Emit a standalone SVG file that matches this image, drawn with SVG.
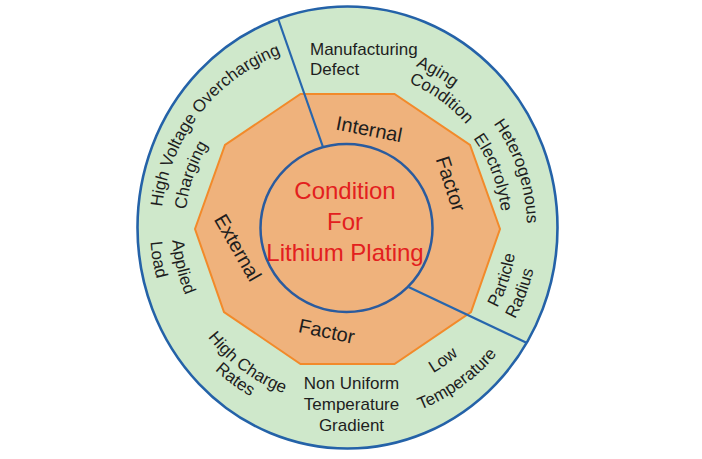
<svg xmlns="http://www.w3.org/2000/svg" xmlns:xlink="http://www.w3.org/1999/xlink" width="702" height="459" viewBox="0 0 702 459">
<style>
  text { font-family: "Liberation Sans", Arial, sans-serif; }
  .lbl { font-size: 17px; fill: #1e1e1e; }
  .fac { font-size: 20px; fill: #1e1e1e; }
  .ctr { font-size: 24px; fill: #e3201e; text-anchor: middle; }
  .div { stroke: #2766ad; stroke-width: 2.2; fill: none; }
</style>
<defs>
  <path id="pHV" d="M162.2,206.94 A186,186 0 0 1 314.7,44.83"/>
  <path id="pCh" d="M186.04,209.66 A162,162 0 0 1 242.87,103.9"/>
  <path id="pAg" d="M415.77,65.99 A176,176 0 0 1 499.42,140"/>
  <path id="pCo" d="M408.74,82.56 A158,158 0 0 1 495.47,173.96"/>
  <path id="pHe" d="M493.54,123.47 A180,180 0 0 1 524.27,259.26"/>
  <path id="pEl" d="M473.19,137.99 A155,155 0 0 1 502,228"/>
  <path id="pPa" d="M497.1,307.81 A170,170 0 0 0 514.42,198.48"/>
  <path id="pRa" d="M514.85,319.14 A191,191 0 0 0 537.27,211.35"/>
  <path id="pLo" d="M393.58,390.45 A169,169 0 0 0 487.11,322.5"/>
  <path id="pTe" d="M401.03,416.41 A196,196 0 0 0 509.49,337.6"/>
  <path id="pHC" d="M184.8,298.86 A177,177 0 0 0 327.27,403.9"/>
  <path id="pRt" d="M169.23,305.67 A194,194 0 0 0 325.37,420.79"/>
  <path id="pAp" d="M172.43,240.21 A175,175 0 0 0 212.94,340.49"/>
  <path id="pLd" d="M150.48,241.74 A197,197 0 0 0 176.39,326.5"/>
</defs>

<g id="outer-ring">
  <ellipse cx="347.5" cy="227.5" rx="210" ry="221" fill="#cfe8cb" stroke="#2462a8" stroke-width="2.6"/>
</g>
<g id="factor-ring">
  <polygon points="300.5,94 394.5,94 470,145 500,229 471,312 394.5,364 300.5,364 224,312 195,229 225,145" fill="#efb27c" stroke="#f28a2a" stroke-width="2"/>
</g>
<g id="center-node">
  <ellipse cx="346.5" cy="228" rx="86" ry="84" fill="none" stroke="#2a5b9e" stroke-width="2.5"/>
  <text class="ctr" x="345" y="199">Condition</text>
  <text class="ctr" x="345" y="230">For</text>
  <text class="ctr" x="345" y="261">Lithium Plating</text>
</g>

<g id="connectors">
  <line class="div" x1="278.5" y1="20" x2="322.8" y2="146.5"/>
  <line class="div" x1="408.5" y1="287" x2="527" y2="343"/>
</g>

<g id="factor-labels">
  <text class="fac" text-anchor="middle" transform="translate(369,130) rotate(11)" y="6">Internal</text>
  <text class="fac" text-anchor="middle" transform="translate(450,184) rotate(72)" y="6">Factor</text>
  <text class="fac" text-anchor="middle" transform="translate(237,248) rotate(60)" y="6">External</text>
  <text class="fac" text-anchor="middle" transform="translate(326.5,332) rotate(12)" y="6">Factor</text>
</g>

<g id="node-high-voltage">
  <text class="lbl"><textPath xlink:href="#pHV" href="#pHV">High Voltage Overcharging</textPath></text>
  <text class="lbl"><textPath xlink:href="#pCh" href="#pCh">Charging</textPath></text>
</g>
<g id="node-manufacturing">
  <text class="lbl" x="310" y="55">Manufacturing</text>
  <text class="lbl" x="310" y="75">Defect</text>
</g>
<g id="node-aging">
  <text class="lbl"><textPath xlink:href="#pAg" href="#pAg">Aging</textPath></text>
  <text class="lbl"><textPath xlink:href="#pCo" href="#pCo">Condition</textPath></text>
</g>
<g id="node-electrolyte">
  <text class="lbl"><textPath xlink:href="#pHe" href="#pHe">Heterogenous</textPath></text>
  <text class="lbl"><textPath xlink:href="#pEl" href="#pEl">Electrolyte</textPath></text>
</g>
<g id="node-particle">
  <text class="lbl"><textPath xlink:href="#pPa" href="#pPa">Particle</textPath></text>
  <text class="lbl"><textPath xlink:href="#pRa" href="#pRa">Radius</textPath></text>
</g>
<g id="node-low-temp">
  <text class="lbl" text-anchor="middle"><textPath xlink:href="#pLo" href="#pLo" startOffset="50%">Low</textPath></text>
  <text class="lbl" text-anchor="middle"><textPath xlink:href="#pTe" href="#pTe" startOffset="50%">Temperature</textPath></text>
</g>
<g id="node-gradient">
  <text class="lbl" text-anchor="middle" x="351.5" y="389">Non Uniform</text>
  <text class="lbl" text-anchor="middle" x="351.5" y="410">Temperature</text>
  <text class="lbl" text-anchor="middle" x="351.5" y="431">Gradient</text>
</g>
<g id="node-charge-rates">
  <text class="lbl" text-anchor="middle"><textPath xlink:href="#pHC" href="#pHC" startOffset="50%">High Charge</textPath></text>
  <text class="lbl" text-anchor="middle"><textPath xlink:href="#pRt" href="#pRt" startOffset="50%">Rates</textPath></text>
</g>
<g id="node-applied-load">
  <text class="lbl"><textPath xlink:href="#pAp" href="#pAp">Applied</textPath></text>
  <text class="lbl"><textPath xlink:href="#pLd" href="#pLd">Load</textPath></text>
</g>
</svg>
